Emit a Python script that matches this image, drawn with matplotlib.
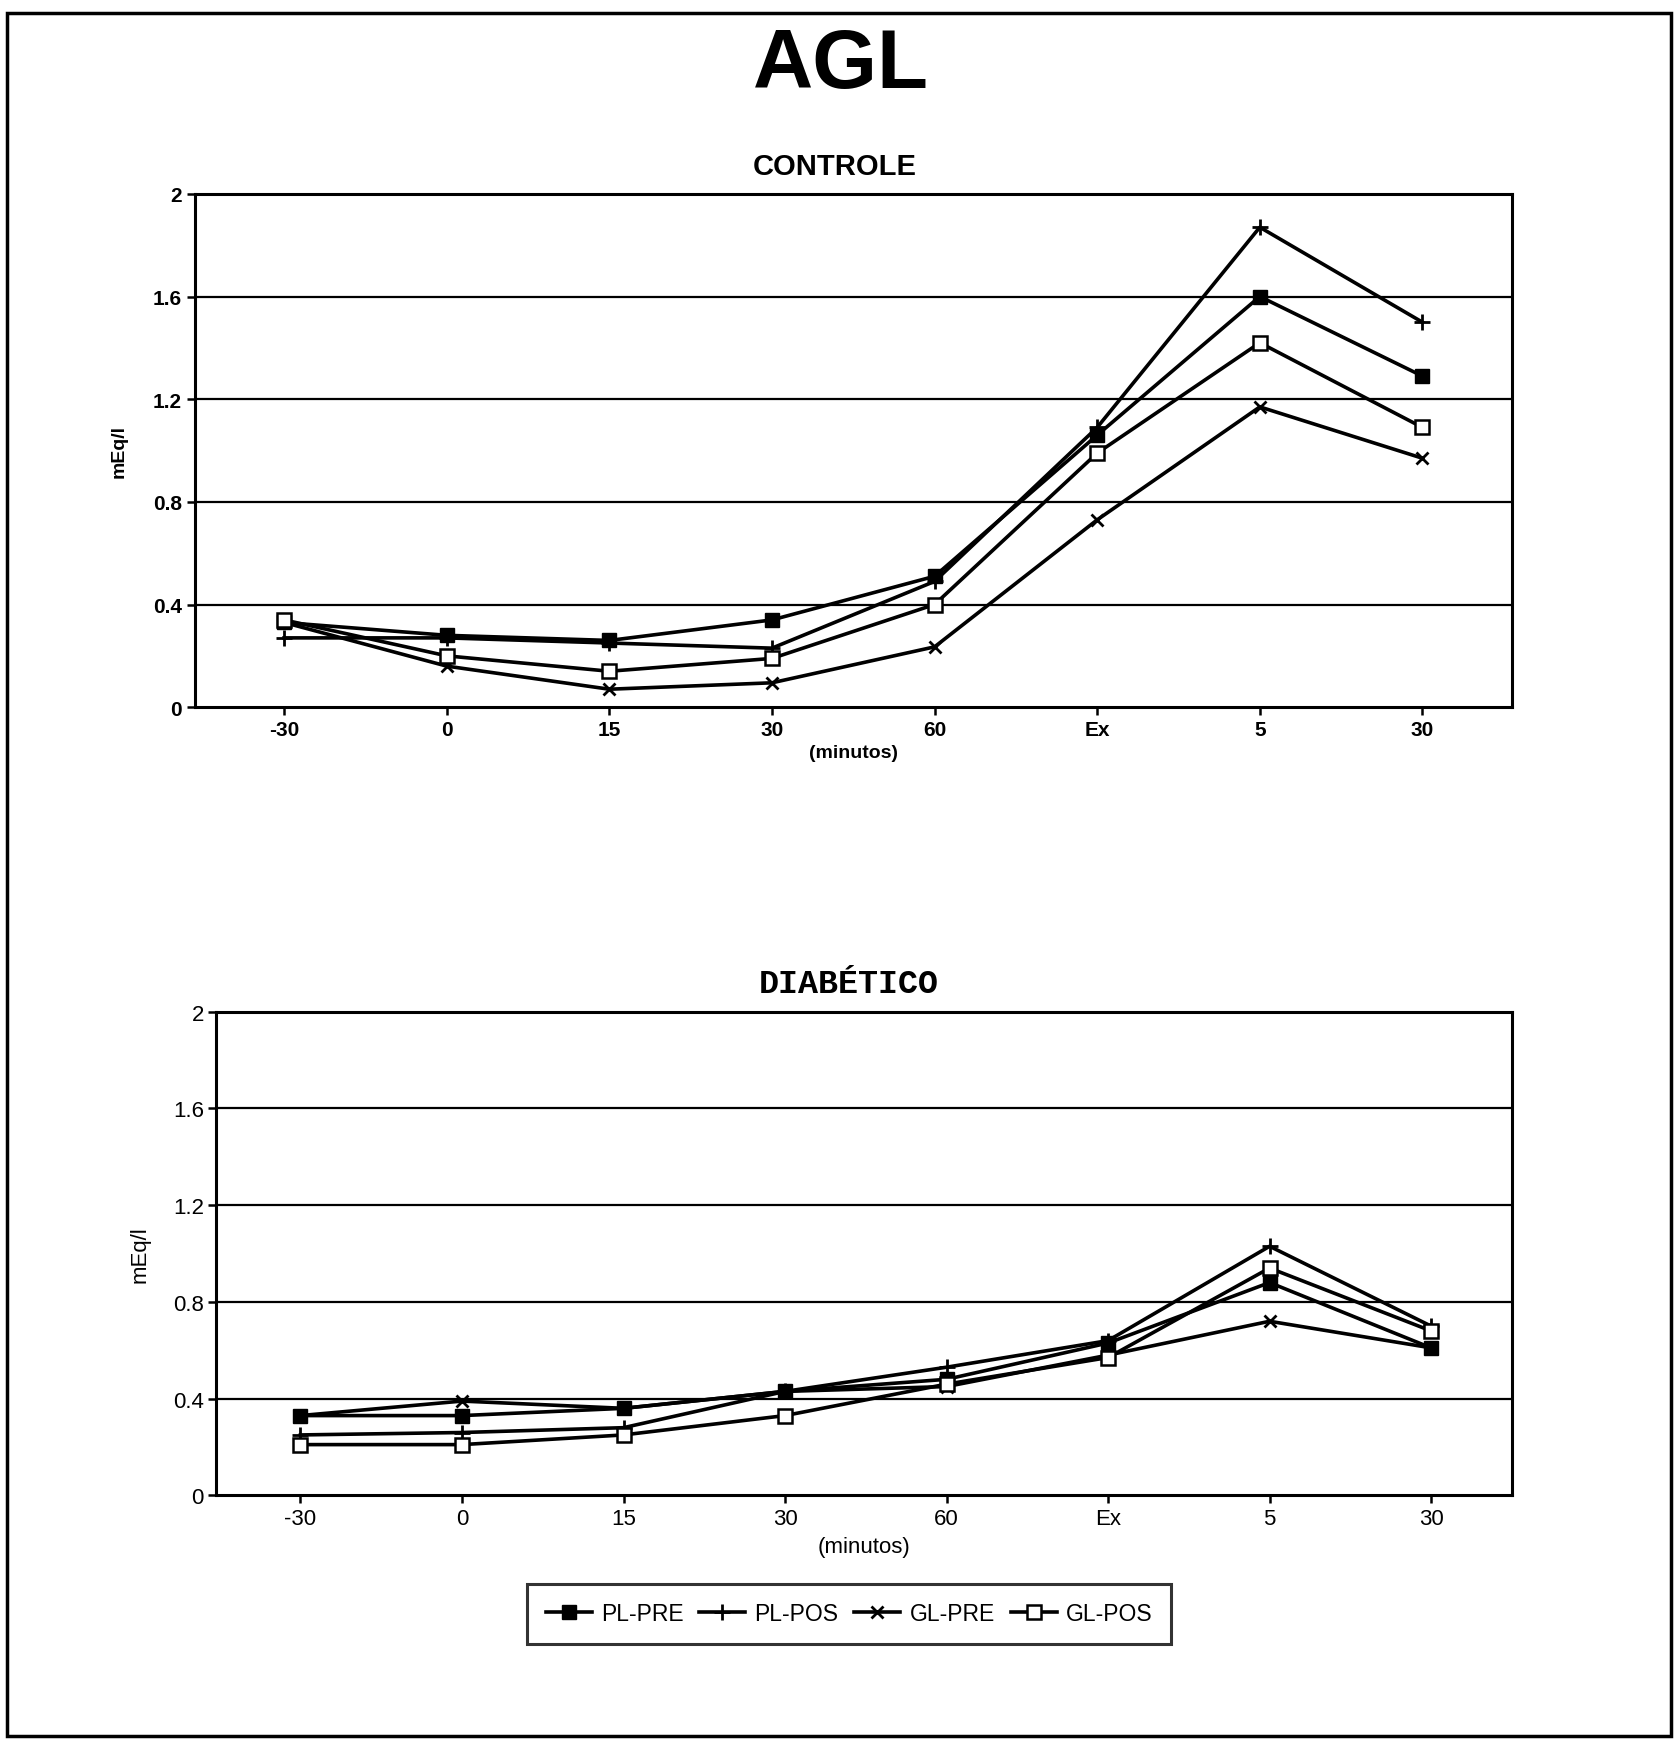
import numpy as np
import matplotlib
matplotlib.use("Agg")
import matplotlib.pyplot as plt
from matplotlib.patches import Rectangle

plt.rcParams['font.family'] = ['Liberation Sans', 'DejaVu Sans']

# categories on the x axis
categorias = ['-30', '0', '15', '30', '60', 'Ex', '5', '30']
y_ticks = [0, 0.4, 0.8, 1.2, 1.6, 2.0]
y_tick_labels = ['0', '0.4', '0.8', '1.2', '1.6', '2']
series = ['PL-PRE', 'PL-POS', 'GL-PRE', 'GL-POS']

# CONTROLE (mEq/l)
ctrl_pl_pre = [0.33, 0.28, 0.26, 0.34, 0.51, 1.06, 1.60, 1.29]
ctrl_pl_pos = [0.27, 0.27, 0.25, 0.23, 0.49, 1.09, 1.87, 1.50]
ctrl_gl_pre = [0.33, 0.16, 0.07, 0.095, 0.235, 0.73, 1.17, 0.97]
ctrl_gl_pos = [0.34, 0.20, 0.14, 0.19, 0.40, 0.99, 1.42, 1.09]

# DIABETICO (mEq/l)
diab_pl_pre = [0.33, 0.33, 0.36, 0.43, 0.48, 0.63, 0.88, 0.61]
diab_pl_pos = [0.25, 0.26, 0.28, 0.43, 0.53, 0.64, 1.03, 0.70]
diab_gl_pre = [0.33, 0.39, 0.36, 0.43, 0.45, 0.58, 0.72, 0.61]
diab_gl_pos = [0.21, 0.21, 0.25, 0.33, 0.46, 0.57, 0.94, 0.68]

# marker style for each series
estilos = {
    'PL-PRE': dict(marker='s', markersize=10, markerfacecolor='black'),
    'PL-POS': dict(marker='+', markersize=12, markeredgewidth=2),
    'GL-PRE': dict(marker='x', markersize=8, markeredgewidth=2),
    'GL-POS': dict(marker='s', markersize=10, markerfacecolor='white', markeredgewidth=1.8),
}

fig = plt.figure(figsize=(16.78, 17.40), dpi=100)

# page border
fig.patches.append(Rectangle((0.004, 0.002), 0.992, 0.99, transform=fig.transFigure,
                             fill=False, edgecolor='black', linewidth=2.5))

fig.text(0.501, 0.962, 'AGL', ha='center', va='center', fontsize=60, fontweight='bold')


def desenha(ax, dados, xlim, tick_fs, tick_weight):
    x = np.arange(len(categorias))
    for nome, valores in zip(series, dados):
        ax.plot(x, valores, color='black', linewidth=2.6, label=nome, **estilos[nome])
    ax.set_xlim(*xlim)
    ax.set_ylim(0, 2)
    ax.set_yticks(y_ticks)
    ax.set_yticklabels(y_tick_labels, fontsize=tick_fs, fontweight=tick_weight)
    ax.set_xticks(x)
    ax.set_xticklabels(categorias, fontsize=tick_fs, fontweight=tick_weight)
    for v in y_ticks[1:-1]:
        ax.axhline(v, color='black', linewidth=1.6, zorder=0)
    for s in ax.spines.values():
        s.set_linewidth(2.2)
    ax.tick_params(axis='both', direction='out', length=6, width=1.8, pad=3)


ax1 = fig.add_axes([0.116, 0.593, 0.785, 0.295])
desenha(ax1, [ctrl_pl_pre, ctrl_pl_pos, ctrl_gl_pre, ctrl_gl_pos], (-0.55, 7.55), 15, 'bold')
ax1.set_title('CONTROLE', fontsize=21, fontweight='bold', pad=14, x=0.486)
ax1.set_ylabel('mEq/l', fontsize=14, fontweight='bold', labelpad=18)
ax1.set_xlabel('(minutos)', fontsize=14, fontweight='bold', labelpad=4)

ax2 = fig.add_axes([0.129, 0.140, 0.772, 0.278])
desenha(ax2, [diab_pl_pre, diab_pl_pos, diab_gl_pre, diab_gl_pos], (-0.52, 7.5), 16, 'normal')
ax2.set_title('DIABÉTICO', fontsize=24, fontweight='bold', family='Liberation Mono', pad=14, x=0.488)
ax2.set_ylabel('mEq/l', fontsize=16, labelpad=16)
ax2.set_xlabel('(minutos)', fontsize=16, labelpad=5)

handles, labels = ax2.get_legend_handles_labels()
leg = fig.legend(handles, labels, loc='center', bbox_to_anchor=(0.506, 0.072), ncol=4,
                 fontsize=16.5, frameon=True, fancybox=False, handlelength=2.0,
                 columnspacing=0.7, handletextpad=0.4, borderpad=0.8)
leg.get_frame().set_edgecolor('black')
leg.get_frame().set_linewidth(2.2)

plt.savefig('out.png', dpi=100)
